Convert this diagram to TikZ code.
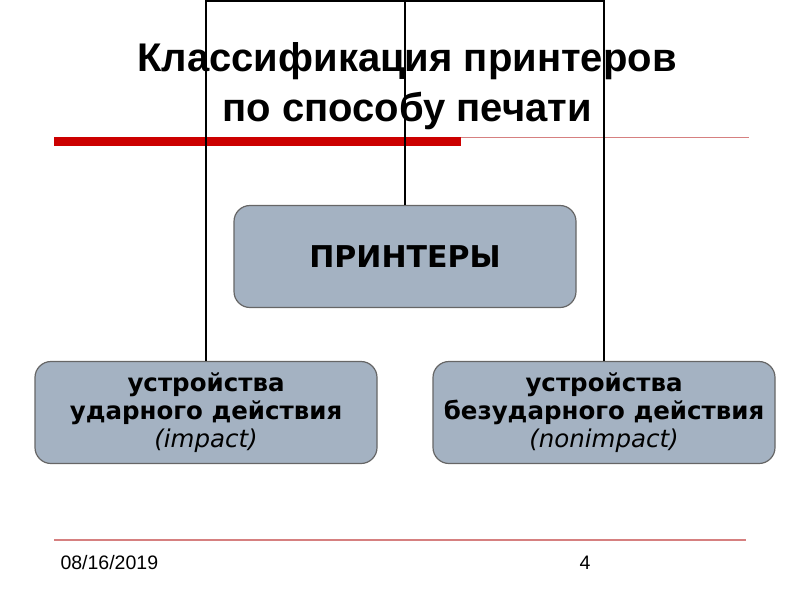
\documentclass[tikz,border=0pt]{standalone}
\usepackage{fontspec}
\setmainfont{Liberation Sans}
\newfontfamily\boxfont{DejaVu Sans}
\usetikzlibrary{positioning,calc}
\definecolor{boxgray}{HTML}{A4B2C2}
\definecolor{barred}{HTML}{CC0000}
\definecolor{rulered}{HTML}{D68080}
\tikzstyle{block} = [draw=black!60, line width=1.2pt, fill=boxgray, rounded corners=16pt, minimum width=342pt, minimum height=102pt, align=center, font=\boxfont\fontsize{24.5}{28}\selectfont\bfseries]
\tikzstyle{data} = [font=\fontsize{19.5}{22}\selectfont]
\tikzstyle{to} = [line width=1.5pt]

\begin{document}
\begin{tikzpicture}[x=1pt, y=-1pt]
	\useasboundingbox (0,0) rectangle (800,600);
	% heading
	\node (title) [align=center, font=\fontsize{40}{50}\selectfont\bfseries] at (407,86) {Классификация принтеров\\по способу печати};
	\fill [barred] (54,137) rectangle (461,146);
	\draw [rulered, line width=1pt] (461,137.5) -- (749,137.5);
	% tree
	\node (printers) [block, font=\boxfont\fontsize{30}{34}\selectfont\bfseries] at (405,256.5) {ПРИНТЕРЫ};
	\node (impact) [block] at (206,412.5) {устройства\\ударного действия\\{\mdseries\itshape (impact)}};
	\node (nonimpact) [block] at (604,412.5) {устройства\\безударного действия\\{\mdseries\itshape (nonimpact)}};
	\coordinate (topleft) at (206,1);
	\coordinate (topright) at (604,1);
	\draw [to] (impact.north) -- (topleft) -- (topright) -- (nonimpact.north);
	\draw [to] (printers.north) -- (printers.north |- topleft);
	% footer
	\draw [rulered, line width=1.2pt] (54,540) -- (746,540);
	\node (date) [data, anchor=west] at (57,563) {08/16/2019};
	\node (page) [data] at (585,563) {4};
\end{tikzpicture}
\end{document}
